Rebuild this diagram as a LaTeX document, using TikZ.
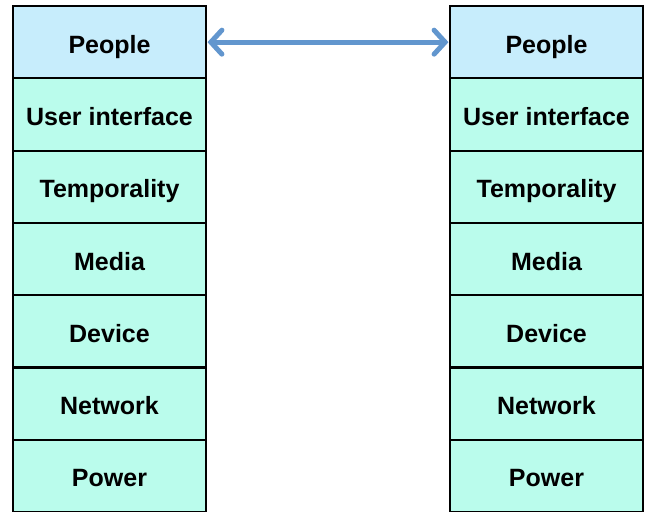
\documentclass[tikz,border=0pt]{standalone}
\usepackage{fontspec}
\setmainfont{Liberation Sans}
\usetikzlibrary{positioning,arrows.meta}

\definecolor{peoplefill}{RGB}{199,237,252}
\definecolor{layerfill}{RGB}{186,252,236}
\definecolor{linkblue}{RGB}{98,150,206}

\tikzset{
  layer/.style={draw=black, line width=2.2pt, fill=layerfill,
    minimum width=193pt, minimum height=72.3pt, inner sep=0pt, outer sep=0pt,
    text height=22pt, text depth=0pt,
    font=\fontsize{25}{28}\selectfont\bfseries},
  toplayer/.style={layer, fill=peoplefill}
}

\begin{document}
\begin{tikzpicture}[x=1pt,y=1pt]
\useasboundingbox (0,0) rectangle (650,-511);

% left stack
\node[toplayer] (lpeople) at (109.5,-42.15) {People};
\node[layer, below=0pt of lpeople] (lui) {User interface};
\node[layer, below=0pt of lui] (ltime) {Temporality};
\node[layer, below=0pt of ltime] (lmedia) {Media};
\node[layer, below=0pt of lmedia] (ldevice) {Device};
\node[layer, below=0pt of ldevice] (lnet) {Network};
\node[layer, below=0pt of lnet] (lpower) {Power};

% right stack
\node[toplayer] (rpeople) at (546.5,-42.15) {People};
\node[layer, below=0pt of rpeople] (rui) {User interface};
\node[layer, below=0pt of rui] (rtime) {Temporality};
\node[layer, below=0pt of rtime] (rmedia) {Media};
\node[layer, below=0pt of rmedia] (rdevice) {Device};
\node[layer, below=0pt of rdevice] (rnet) {Network};
\node[layer, below=0pt of rnet] (rpower) {Power};

\draw[linkblue, line width=5pt, line cap=round,
  {Straight Barb[length=11pt,width=24pt,line cap=round]}-{Straight Barb[length=11pt,width=24pt,line cap=round]}]
  ([xshift=1.5pt]lpeople.east) -- ([xshift=-1.5pt]rpeople.west);

\end{tikzpicture}
\end{document}
